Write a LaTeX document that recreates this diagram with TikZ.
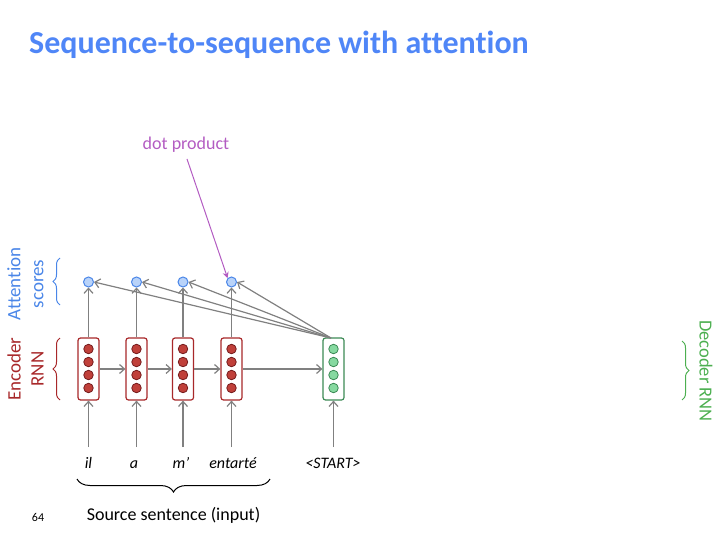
\documentclass[tikz,border=0pt]{standalone}
\usepackage{fontspec}
\setmainfont{Carlito}[Ligatures={NoCommon}]
\usetikzlibrary{arrows.meta,decorations.pathreplacing}
\definecolor{titleblue}{HTML}{4F86F7}
\definecolor{encred}{HTML}{A8282A}
\definecolor{encdot}{HTML}{C0403A}
\definecolor{decgreen}{HTML}{3C8A55}
\definecolor{decdot}{HTML}{86D9A0}
\definecolor{attblue}{HTML}{4A86E8}
\definecolor{attfill}{HTML}{B9D3F9}
\definecolor{dotpurple}{HTML}{B35CC2}
\definecolor{labgreen}{HTML}{4CAF50}
\definecolor{arrowgray}{HTML}{808080}
\tikzset{
  encbox/.style={draw=encred,line width=1.2pt,rounded corners=2.5pt,minimum width=21pt,minimum height=62pt,inner sep=0pt},
  decbox/.style={draw=decgreen,line width=1.2pt,rounded corners=2.5pt,minimum width=21pt,minimum height=62pt,inner sep=0pt},
  encdotn/.style={circle,draw=encred!70!black,fill=encdot,line width=0.8pt,minimum size=9.5pt,inner sep=0pt},
  decdotn/.style={circle,draw=decgreen,fill=decdot,line width=0.8pt,minimum size=9.5pt,inner sep=0pt},
  attn/.style={circle,draw=attblue,fill=attfill,line width=1pt,minimum size=10pt,inner sep=0pt},
  garrow/.style={draw=arrowgray,line width=1.2pt,-{Straight Barb[length=5pt,width=9pt]}},
  word/.style={font=\fontsize{16}{18}\selectfont\itshape,inner sep=0pt,anchor=base},
  bracestyle/.style={decorate,decoration={brace,amplitude=7pt},line width=1pt}
}
\begin{document}
\begin{tikzpicture}[x=1pt,y=-1pt]
\useasboundingbox (0,0) rectangle (720,540);
\node[font=\fontsize{32}{34}\selectfont\bfseries,text=titleblue,anchor=west,inner sep=0pt] (title) at (29,45) {Sequence-to-sequence with attention};

% encoder boxes
\foreach \i/\x in {1/88.5,2/136.5,3/183,4/231.5}{
  \node[encbox] (e\i) at (\x,369) {};
  \foreach \j/\y in {1/349,2/362,3/375,4/388}{
    \node[encdotn] (e\i d\j) at (\x,\y) {};
  }
  \node[attn] (a\i) at (\x,282) {};
}
\node[decbox] (dec) at (333.5,369) {};
\foreach \j/\y in {1/349,2/362,3/375,4/388}{
  \node[decdotn] (dd\j) at (333.5,\y) {};
}

% encoder to attention
\foreach \i in {1,2,3,4}{
  \draw[garrow] (e\i.north) -- (a\i.south);
}
% horizontal
\draw[garrow] (e1.east |- 0,369) -- (e2.west |- 0,369);
\draw[garrow] (e2.east |- 0,369) -- (e3.west |- 0,369);
\draw[garrow] (e3.east |- 0,369) -- (e4.west |- 0,369);
\draw[garrow] (e4.east |- 0,369) -- (dec.west |- 0,369);

% decoder to attention
\coordinate (dtop) at (331,338);
\foreach \i in {1,2,3,4}{
  \draw[garrow] (dtop) -- (a\i.east);
}

% inputs
\node[word] (w1) at (88.5,468) {il};
\node[word] (w2) at (134,468) {a};
\node[word] (w3) at (181,468) {m’};
\node[word] (w4) at (233,468) {entarté};
\node[word] (w5) at (333,468) {<START>};
\foreach \i/\x in {1/88.5,2/136.5,3/183,4/231.5}{
  \coordinate (in\i) at (\x,447);
  \draw[garrow] (in\i) -- (e\i.south);
}
\coordinate (in5) at (333.5,447);
\draw[garrow] (in5) -- (dec.south);

% braces
\draw[bracestyle,decoration={amplitude=13pt}] (270,479) -- (77,479);
\node[font=\fontsize{18}{20}\selectfont,inner sep=0pt] (src) at (173.5,515) {Source sentence (input)};
\node[font=\fontsize{12}{14}\selectfont,inner sep=0pt] (pg) at (38,517) {64};

\draw[bracestyle,draw=attblue] (60,305) -- (60,258);
\node[rotate=90,align=center,text=attblue,font=\fontsize{19}{23}\selectfont,inner sep=0pt] (attlab) at (25.5,284) {Attention\\scores};

\draw[bracestyle,draw=encred] (60,400) -- (60,338);
\node[rotate=90,align=center,text=encred,font=\fontsize{19}{23}\selectfont,inner sep=0pt] (enclab) at (25.5,369) {Encoder\\RNN};

\draw[bracestyle,draw=labgreen] (682,341) -- (682,400);
\node[rotate=-90,text=labgreen,font=\fontsize{18.5}{20}\selectfont,inner sep=0pt] (declab) at (706,371) {Decoder RNN};

% dot product
\node[text=dotpurple,font=\fontsize{18}{20}\selectfont,inner sep=0pt] (dp) at (186,145) {dot product};
\coordinate (dpstart) at (187,159);
\draw[draw=dotpurple,line width=1pt,-{Stealth[length=6pt,width=6pt]}] (dpstart) -- (a4.north west);
\end{tikzpicture}
\end{document}
